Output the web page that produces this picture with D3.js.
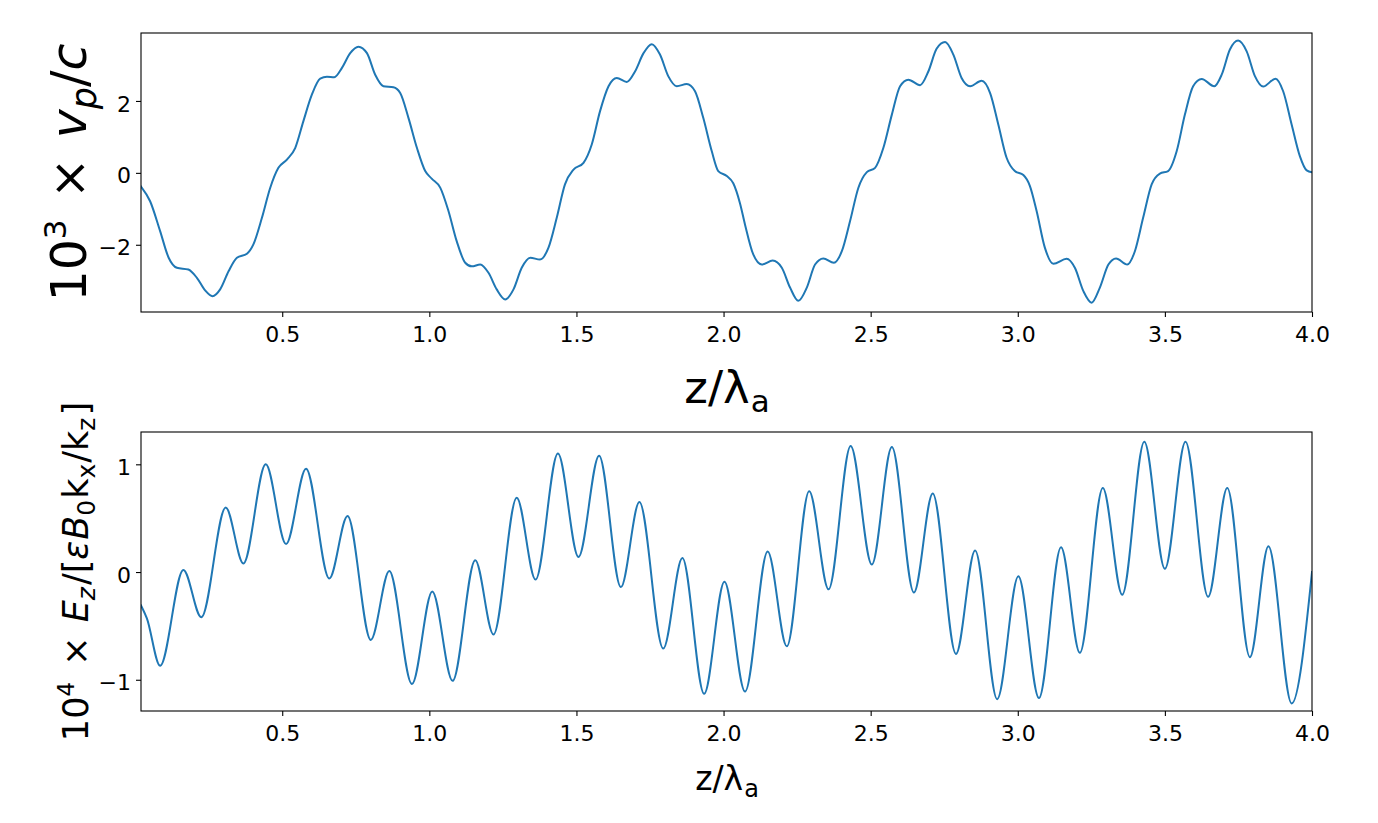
<!DOCTYPE html>
<html><head><meta charset="utf-8">
<script src="https://cdn.jsdelivr.net/npm/d3@7"></script>
<style>body{margin:0;background:#fff} text{font-family:"DejaVu Sans",sans-serif}</style>
</head><body><svg id="c" width="1378" height="823"></svg>
<script>
// ---- data ----
const zTop = [0.02,0.051,0.085,0.114,0.142,0.181,0.210,0.238,0.263,0.289,0.318,0.346,0.380,0.402,0.431,0.459,0.487,0.516,0.544,0.572,0.601,0.629,0.652,0.677,0.703,0.731,0.759,0.788,0.816,0.844,0.878,0.901,0.929,0.958,0.986,
1.008,1.037,1.065,1.093,1.122,1.144,1.173,1.201,1.229,1.258,1.286,1.314,1.343,1.376,1.405,1.433,1.461,1.490,1.524,1.552,1.580,1.609,1.637,1.671,1.699,1.728,1.756,1.784,1.812,1.841,1.875,1.903,1.931,1.960,1.982,
2.011,2.033,2.056,2.073,2.101,2.130,2.167,2.198,2.226,2.254,2.283,2.311,2.339,2.375,2.402,2.430,2.458,2.487,2.515,2.543,2.572,2.600,2.628,2.668,2.696,2.724,2.753,2.781,2.809,2.838,2.877,2.906,2.934,2.962,2.990,
3.019,3.041,3.064,3.092,3.121,3.166,3.194,3.223,3.251,3.279,3.308,3.334,3.372,3.398,3.426,3.455,3.483,3.511,3.540,3.568,3.596,3.625,3.668,3.693,3.721,3.749,3.778,3.806,3.834,3.876,3.902,3.931,3.959,3.982,4.0];
const vpTop = [-0.38,-0.79,-1.62,-2.36,-2.64,-2.69,-2.92,-3.27,-3.43,-3.24,-2.73,-2.36,-2.25,-1.99,-1.25,-0.42,0.14,0.37,0.69,1.44,2.18,2.62,2.67,2.66,2.92,3.33,3.51,3.33,2.73,2.41,2.38,2.22,1.53,0.69,0.05,
-0.16,-0.41,-1.06,-1.90,-2.50,-2.60,-2.55,-2.78,-3.24,-3.52,-3.24,-2.64,-2.36,-2.41,-2.08,-1.25,-0.32,0.09,0.28,0.79,1.71,2.41,2.64,2.53,2.82,3.33,3.58,3.29,2.69,2.41,2.47,2.27,1.53,0.60,0.05,
-0.09,-0.29,-0.85,-1.44,-2.27,-2.55,-2.44,-2.64,-3.19,-3.56,-3.19,-2.55,-2.38,-2.50,-2.18,-1.34,-0.42,0.02,0.14,0.69,1.62,2.41,2.59,2.44,2.82,3.45,3.64,3.29,2.64,2.41,2.56,2.22,1.34,0.42,0.05,
-0.06,-0.36,-1.06,-2.08,-2.53,-2.39,-2.64,-3.29,-3.61,-3.19,-2.55,-2.38,-2.55,-2.18,-1.25,-0.32,-0.02,0.05,0.60,1.62,2.41,2.61,2.41,2.73,3.43,3.68,3.38,2.69,2.40,2.62,2.27,1.34,0.46,0.07,0.02];

// bottom panel: start, every local extremum, end
const zBot = [0.02,0.040,0.085,0.164,0.225,0.308,0.368,0.444,0.513,0.581,0.660,0.722,0.801,0.864,0.941,
1.010,1.079,1.156,1.218,1.297,1.361,1.437,1.507,1.577,1.651,1.714,1.795,1.860,1.934,
2.003,2.073,2.150,2.215,2.291,2.357,2.432,2.504,2.572,2.647,2.711,2.790,2.855,2.930,
3.002,3.072,3.147,3.211,3.289,3.355,3.430,3.500,3.570,3.647,3.712,3.789,3.852,3.931,4.0];
const ezBot = [-0.31,-0.43,-0.87,0.02,-0.42,0.60,0.08,1.00,0.26,0.96,-0.06,0.52,-0.63,0.01,-1.04,
-0.18,-1.01,0.11,-0.58,0.69,-0.07,1.10,0.14,1.08,-0.14,0.65,-0.71,0.13,-1.13,
-0.09,-1.11,0.19,-0.69,0.75,-0.16,1.17,0.07,1.16,-0.19,0.73,-0.76,0.20,-1.18,
-0.04,-1.17,0.23,-0.75,0.78,-0.21,1.21,0.03,1.21,-0.23,0.78,-0.79,0.24,-1.22,0.00];

const xTickValues = [0.5,1.0,1.5,2.0,2.5,3.0,3.5,4.0];
const topYTickValues = [-2,0,2];
const botYTickValues = [-1,0,1];
const xDomain = [0.02,4.0];
const topYDomain = [-3.87,3.89];
const botYDomain = [-1.29,1.30];

// ---- drawing ----
const svg = d3.select("#c");
svg.append("rect").attr("width",1378).attr("height",823).attr("fill","#fff");
const L = 141, R = 1312;
const x = d3.scaleLinear().domain(xDomain).range([L,R]);

const panels = [
  {top:33, bottom:312, dom:topYDomain, xs:zTop, ys:vpTop, yt:topYTickValues, id:"a"},
  {top:432, bottom:711, dom:botYDomain, xs:zBot, ys:ezBot, yt:botYTickValues, id:"b"}
];

panels.forEach(p => {
  const y = d3.scaleLinear().domain(p.dom).range([p.bottom,p.top]);
  svg.append("clipPath").attr("id","clip"+p.id).append("rect")
    .attr("x",L).attr("y",p.top).attr("width",R-L).attr("height",p.bottom-p.top);
  const pts = p.xs.map((d,i)=>[d,p.ys[i]]);
  svg.append("path").datum(pts)
    .attr("clip-path","url(#clip"+p.id+")")
    .attr("fill","none").attr("stroke","#1f77b4").attr("stroke-width",2)
    .attr("stroke-linejoin","round").attr("stroke-linecap","square")
    .attr("d", d3.line().x(d=>x(d[0])).y(d=>y(d[1])).curve(d3.curveMonotoneX));

  const gx = svg.append("g").attr("transform",`translate(0,${p.bottom})`)
    .call(d3.axisBottom(x).tickValues(xTickValues).tickSize(5).tickSizeOuter(0).tickPadding(9).tickFormat(d3.format(".1f")));
  const gy = svg.append("g").attr("transform",`translate(${L},0)`)
    .call(d3.axisLeft(y).tickValues(p.yt).tickSize(5).tickSizeOuter(0).tickPadding(5).tickFormat(d3.format("d")));
  [gx,gy].forEach(g=>{
    g.select(".domain").remove();
    g.selectAll("line").attr("stroke","#000").attr("stroke-width",1.1);
    g.selectAll("text").attr("fill","#000").style("font-size","22px").style("font-family","DejaVu Sans");
  });
  gy.selectAll("text").attr("dy","0.46em");
  svg.append("rect").attr("x",L).attr("y",p.top).attr("width",R-L).attr("height",p.bottom-p.top)
    .attr("fill","none").attr("stroke","#000").attr("stroke-width",1.1);
});

function label(xp, yp, rot, size, segs){
  const t = svg.append("text").attr("text-anchor","middle")
    .attr("transform",`translate(${xp},${yp}) rotate(${rot})`)
    .style("font-size",size+"px").attr("fill","#000");
  segs.forEach(s=>{
    const ts = t.append("tspan").text(s.t);
    if (s.size) ts.style("font-size",s.size+"px");
    if (s.dy) ts.attr("dy",s.dy);
    if (s.dx) ts.attr("dx",s.dx);
    if (s.it) ts.style("font-style","italic");
  });
  return t;
}

// top y label: 10^3 × v_p/c
label(86, 172.5, -90, 49, [
  {t:"10"},{t:"3",size:31,dy:-20},{t:"\u00a0\u00d7\u00a0",dy:20,dx:5},
  {t:"v",it:1,dx:4},{t:"p",it:1,size:35,dy:10},{t:"/",dy:-10},{t:"c",it:1}
]);
// bottom y label
label(88, 571.5, -90, 35, [
  {t:"10"},{t:"4",size:23,dy:-14},{t:"\u00a0\u00d7\u00a0",dy:14,dx:5},
  {t:"E",it:1,dx:3},{t:"z",it:1,size:25,dy:7},{t:"/[",dy:-7,dx:2},{t:"\u03b5",it:1},{t:"B",it:1,dx:1},
  {t:"0",size:25,dy:7},{t:"k",dy:-7,dx:1},{t:"x",size:25,dy:7},{t:"/",dy:-7,dx:1},{t:"k"},{t:"z",size:25,dy:7},{t:"]",dy:-7,dx:2}
]);
// x labels
label(727, 403, 0, 45, [{t:"z/\u03bb"},{t:"a",size:31,dy:9,dx:1}]);
label(727, 790, 0, 33, [{t:"z/\u03bb"},{t:"a",size:24,dy:7,dx:1}]);
</script></body></html>
